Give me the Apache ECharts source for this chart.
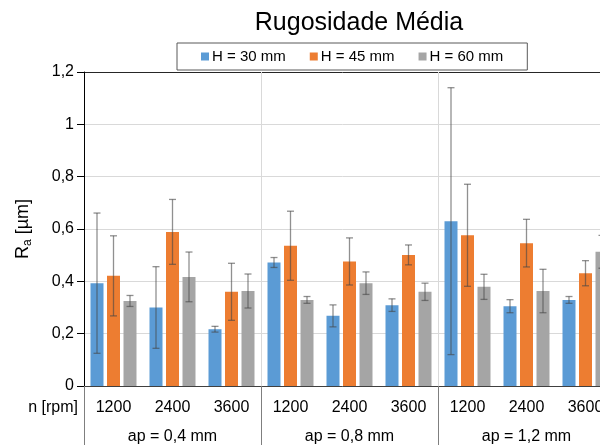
<!DOCTYPE html>
<html>
<head>
<meta charset="utf-8">
<script src="https://cdn.jsdelivr.net/npm/echarts@6/dist/echarts.min.js"></script>
<style>
  html, body { margin: 0; padding: 0; background: #fff; }
  #chart { width: 600px; height: 445px; }
</style>
</head>
<body>
<div id="chart"></div>
<script>
// Spindle speed per bar, cutting depth per group
const speeds = ['1200', '2400', '3600', '1200', '2400', '3600', '1200', '2400', '3600'];
const depthGroups = ['ap = 0,4 mm', 'ap = 0,8 mm', 'ap = 1,2 mm'];
const seriesNames = ['H = 30 mm', 'H = 45 mm', 'H = 60 mm'];

// Mean roughness Ra [µm]
const raH30 = [0.393, 0.300, 0.217, 0.472, 0.268, 0.309, 0.630, 0.305, 0.329];
const raH45 = [0.421, 0.589, 0.360, 0.536, 0.476, 0.501, 0.576, 0.546, 0.431];
const raH60 = [0.325, 0.417, 0.363, 0.329, 0.393, 0.360, 0.379, 0.363, 0.513];

// Standard deviation of Ra [µm]
const sdH30 = [0.268, 0.156, 0.011, 0.019, 0.042, 0.024, 0.510, 0.025, 0.013];
const sdH45 = [0.153, 0.124, 0.109, 0.132, 0.090, 0.038, 0.195, 0.091, 0.048];
const sdH60 = [0.021, 0.095, 0.065, 0.013, 0.043, 0.033, 0.048, 0.083, 0.063];

// Y axis ticks
const yMin = 0, yMax = 1.2, yStep = 0.2;

const colors = ['#5b9bd5', '#ed7d31', '#a5a5a5'];
const means = [raH30, raH45, raH60];
const devs = [sdH30, sdH45, sdH60];

const FONT = '"Liberation Sans", Arial, sans-serif';
const BAR_W = 13;
const BAR_GAP = 3.5;

function errorBar(slot) {
  return function (params, api) {
    const idx = api.value(0);
    const m = api.value(1);
    const e = api.value(2);
    const top = api.coord([idx, m + e]);
    const bot = api.coord([idx, m - e]);
    const x = top[0] + (slot - 1) * (BAR_W + BAR_GAP);
    const cap = 3.5;
    const style = { stroke: 'rgba(70,70,70,0.6)', lineWidth: 1.3, fill: null };
    return {
      type: 'group',
      children: [
        { type: 'line', shape: { x1: x, y1: top[1], x2: x, y2: bot[1] }, style },
        { type: 'line', shape: { x1: x - cap, y1: top[1], x2: x + cap, y2: top[1] }, style },
        { type: 'line', shape: { x1: x - cap, y1: bot[1], x2: x + cap, y2: bot[1] }, style }
      ]
    };
  };
}

const barSeries = seriesNames.map((name, s) => ({
  name,
  type: 'bar',
  xAxisIndex: 0,
  barWidth: BAR_W,
  barGap: (BAR_GAP / BAR_W * 100) + '%',
  itemStyle: { color: colors[s] },
  data: means[s]
}));

const errSeries = seriesNames.map((name, s) => ({
  name: name + ' σ',
  type: 'custom',
  xAxisIndex: 0,
  z: 5,
  silent: true,
  renderItem: errorBar(s),
  encode: { x: 0, y: 1 },
  data: means[s].map((v, i) => [i, v, devs[s][i]])
}));

const chart = echarts.init(document.getElementById('chart'), null, { renderer: 'canvas' });

chart.setOption({
  animation: false,
  backgroundColor: '#fff',
  textStyle: { fontFamily: FONT },
  title: {
    text: 'Rugosidade Média',
    left: 354,
    textAlign: 'center',
    top: 6,
    textStyle: { fontFamily: FONT, fontSize: 25, fontWeight: 'normal', color: '#000' }
  },
  legend: {
    data: seriesNames,
    left: 177,
    top: 43,
    padding: [6, 24, 6, 24],
    itemGap: 24,
    itemWidth: 8,
    itemHeight: 8,
    icon: 'rect',
    borderColor: '#595959',
    borderWidth: 1,
    backgroundColor: '#fff',
    textStyle: { fontFamily: FONT, fontSize: 15, color: '#000', padding: [0, 0, 0, -2] }
  },
  // plot area runs past the right edge of the canvas
  grid: { left: 84, width: 531, top: 72, bottom: 59, containLabel: false, outerBoundsMode: 'none' },
  xAxis: [
    {
      type: 'category',
      data: speeds,
      position: 'bottom',
      axisLine: { lineStyle: { color: '#404040', width: 1 } },
      axisTick: { show: false },
      axisLabel: { margin: 14, fontSize: 16, color: '#000', fontFamily: FONT },
      splitLine: { show: false }
    },
    {
      type: 'category',
      data: depthGroups,
      position: 'bottom',
      axisLine: { show: false },
      axisTick: { show: true, inside: false, length: 60, lineStyle: { color: '#7f7f7f' } },
      axisLabel: { margin: 43, fontSize: 16, color: '#000', fontFamily: FONT },
      splitLine: { show: true, showMinLine: false, lineStyle: { color: '#d9d9d9' } }
    }
  ],
  yAxis: {
    type: 'value',
    min: yMin,
    max: yMax,
    interval: yStep,
    name: '{r|R}{s|a}{r| [µm]}',
    nameLocation: 'middle',
    nameRotate: 90,
    nameGap: 50,
    nameTextStyle: {
      rich: {
        r: { fontFamily: FONT, fontSize: 18, color: '#000', lineHeight: 22 },
        s: { fontFamily: FONT, fontSize: 12, color: '#000', lineHeight: 22, verticalAlign: 'bottom', padding: [8, 0, 0, 0] }
      }
    },
    axisLine: { show: true, lineStyle: { color: '#000' } },
    axisTick: { show: true, length: 7, lineStyle: { color: '#000' } },
    axisLabel: {
      margin: 10,
      fontSize: 16,
      color: '#000',
      fontFamily: FONT,
      formatter: v => String(+v.toFixed(1)).replace('.', ',')
    },
    splitLine: {
      show: true,
      lineStyle: { color: ['#d9d9d9', '#d9d9d9', '#d9d9d9', '#d9d9d9', '#d9d9d9', '#d9d9d9', '#262626'] }
    }
  },
  graphic: [
    {
      type: 'text',
      x: 78,
      y: 408,
      style: {
        text: 'n [rpm]',
        fontFamily: FONT,
        fontSize: 16,
        fill: '#000',
        align: 'right',
        verticalAlign: 'middle'
      }
    }
  ],
  series: barSeries.concat(errSeries)
});
</script>
</body>
</html>
